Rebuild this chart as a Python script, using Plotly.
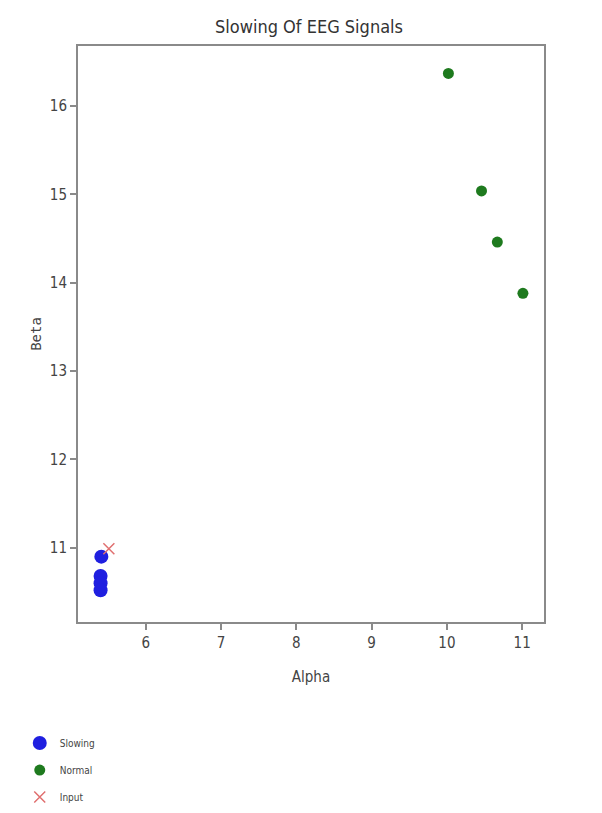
import plotly.graph_objects as go

slow_alpha = [5.41, 5.40, 5.40, 5.40]
slow_beta = [10.90, 10.68, 10.60, 10.52]
norm_alpha = [10.02, 10.46, 10.67, 11.01]
norm_beta = [16.37, 15.04, 14.46, 13.88]
input_alpha = [5.51]
input_beta = [10.99]

FONT = "Liberation Sans Narrow, Arial Narrow, DejaVu Sans Condensed, sans-serif"

fig = go.Figure()
fig.add_trace(go.Scatter(x=slow_alpha, y=slow_beta, mode="markers", name="Slowing",
                         legendgroup="a",
                         marker=dict(color="#1f1fe0", size=14)))
fig.add_trace(go.Scatter(x=norm_alpha, y=norm_beta, mode="markers", name="Normal",
                         legendgroup="b",
                         marker=dict(color="#1e7a1e", size=11)))
fig.add_trace(go.Scatter(x=input_alpha, y=input_beta, mode="markers", name="Input",
                         legendgroup="c",
                         marker=dict(color="#e07070", size=11, symbol="x-thin-open",
                                     line=dict(color="#e07070", width=1.5))))

axis_common = dict(showline=True, mirror=True, linecolor="#8a8a8a", linewidth=2,
                   ticks="outside", tickcolor="#8a8a8a", ticklen=6, tickwidth=1.5,
                   showgrid=False, zeroline=False,
                   tickfont=dict(size=15, color="#444", family=FONT))

fig.update_layout(
    width=602, height=813,
    paper_bgcolor="white", plot_bgcolor="white",
    margin=dict(l=70, r=66, t=38, b=199, autoexpand=False),
    title=dict(text="Slowing Of EEG Signals", x=0.5, xanchor="center", y=0.985,
               font=dict(size=18, color="#333", family=FONT)),
    xaxis=dict(range=[5.10, 11.29], tickvals=[6, 7, 8, 9, 10, 11],
               title=dict(text="Alpha", font=dict(size=15, color="#444", family=FONT), standoff=20),
               **axis_common),
    yaxis=dict(range=[10.16, 16.68], tickvals=[11, 12, 13, 14, 15, 16],
               title=dict(text="Beta", font=dict(size=14, color="#444", family="DejaVu Sans Mono, monospace"), standoff=5),
               **axis_common),
    legend=dict(x=-0.125, xanchor="left", y=-0.185, yanchor="top",
                font=dict(size=10, color="#444", family=FONT),
                bgcolor="rgba(0,0,0,0)", tracegroupgap=8),
    showlegend=True,
)

fig.write_html("out.html")
